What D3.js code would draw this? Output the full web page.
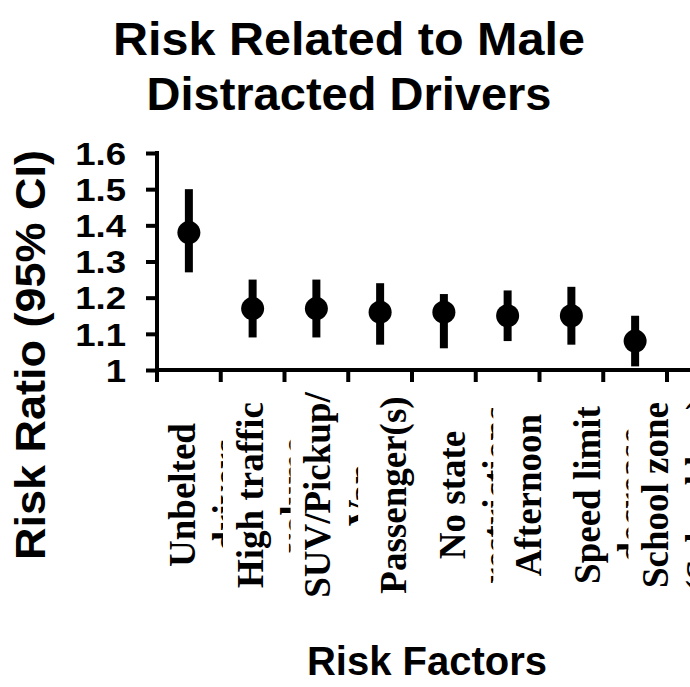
<!DOCTYPE html>
<html>
<head>
<meta charset="utf-8">
<script src="https://cdn.jsdelivr.net/npm/d3@7"></script>
<style>
  body { margin: 0; background: #fff; }
  svg { display: block; }
</style>
</head>
<body>
<svg id="chart" width="690" height="687"></svg>
<script>
// risk ratios with 95% CI
var categories = ["Unbelted drivers", "High traffic volume", "SUV/Pickup/Van", "Passenger(s)",
                  "No state restrictions", "Afternoon", "Speed limit decrease", "School zone (School bus)"]
var labelLines = [["Unbelted", "drivers"], ["High traffic", "volume"], ["SUV/Pickup/", "Van"], ["Passenger(s)"],
                  ["No state", "restrictions"], ["Afternoon"], ["Speed limit", "decrease"], ["School zone", "(School bus)"]]
var riskRatio = [1.38, 1.17, 1.17, 1.16, 1.16, 1.15, 1.15, 1.08]
var ciLow     = [1.27, 1.09, 1.09, 1.07, 1.06, 1.08, 1.07, 1.01]
var ciHigh    = [1.50, 1.25, 1.25, 1.24, 1.21, 1.22, 1.23, 1.15]
var yTicks    = [1, 1.1, 1.2, 1.3, 1.4, 1.5, 1.6]

var svg = d3.select("#chart"),
    width = +svg.attr("width"),
    height = +svg.attr("height")

var sans = "'Liberation Sans', Arial, sans-serif",
    serif = "'Liberation Serif', 'Times New Roman', serif"

var x = d3.scaleBand()
    .domain(categories)
    .range([157, 667])

var y = d3.scaleLinear()
    .domain([1, 1.6])
    .range([370, 153])

// label baselines do not sit quite on the band centres in the original
var xLabel = d3.scalePoint()
    .domain(categories)
    .range([195, 668])

// title
var title = svg.append("g")
    .attr("font-family", sans)
    .attr("font-weight", "bold")
    .attr("font-size", "47px")
    .attr("text-anchor", "middle")
title.append("text").attr("x", 349).attr("y", 55)
    .attr("textLength", 472).attr("lengthAdjust", "spacingAndGlyphs")
    .text("Risk Related to Male")
title.append("text").attr("x", 349).attr("y", 110)
    .attr("textLength", 405).attr("lengthAdjust", "spacingAndGlyphs")
    .text("Distracted Drivers")

// y axis
var yAxis = svg.append("g")
    .attr("transform", "translate(157,0)")
    .call(d3.axisLeft(y).tickValues(yTicks).tickSize(11).tickPadding(20).tickSizeOuter(0)
      .tickFormat(function(d) { return String(d); }))
yAxis.select(".domain").remove()
yAxis.selectAll(".tick line").attr("stroke", "#000").attr("stroke-width", 4)
yAxis.selectAll(".tick text")
    .attr("font-family", sans)
    .attr("font-weight", "bold")
    .attr("font-size", "31px")
    .attr("fill", "#000")
    .attr("dy", "0.36em")
    .each(function() {
      var len = this.getComputedTextLength()
      d3.select(this).attr("textLength", len * 1.18).attr("lengthAdjust", "spacingAndGlyphs")
    })

svg.append("line")
    .attr("x1", 157).attr("x2", 157)
    .attr("y1", y(1.6) - 2).attr("y2", y(1) + 12)
    .attr("stroke", "#000").attr("stroke-width", 4)

// x axis, runs off the right edge like the original
svg.append("line")
    .attr("x1", 155).attr("x2", width)
    .attr("y1", y(1)).attr("y2", y(1))
    .attr("stroke", "#000").attr("stroke-width", 4)

var bounds = categories.map(function(c) { return x(c); }).concat([x.range()[1]])
svg.selectAll(".xtick")
    .data(bounds)
    .enter().append("line")
    .attr("class", "xtick")
    .attr("x1", function(d) { return d; })
    .attr("x2", function(d) { return d; })
    .attr("y1", y(1))
    .attr("y2", y(1) + 12)
    .attr("stroke", "#000").attr("stroke-width", 4)

// category labels, second line is cut off as in the original
svg.append("clipPath").attr("id", "lab-clip")
  .append("rect").attr("x", -300).attr("y", -60).attr("width", 600).attr("height", 88)

var labels = svg.selectAll(".xlabel")
    .data(categories)
    .enter().append("g")
    .attr("class", "xlabel")
    .attr("transform", function(d, i) {
      var shift = labelLines[i].length === 1 ? 8 : 0
      return "translate(" + (xLabel(d) + shift) + ",495) rotate(-90)"
    })

labels.selectAll("text")
    .data(function(d, i) { return labelLines[i]; })
    .enter().append("text")
    .attr("clip-path", "url(#lab-clip)")
    .attr("x", 0)
    .attr("y", function(d, j) { return j * 44; })
    .attr("text-anchor", "middle")
    .attr("font-family", serif)
    .attr("font-weight", "bold")
    .attr("font-size", "37px")
    .attr("fill", "#000")
    .text(function(d) { return d; })

// error bars and points
var centre = function(d) { return x(d) + x.bandwidth() / 2; }

svg.selectAll(".ci")
    .data(categories)
    .enter().append("line")
    .attr("class", "ci")
    .attr("x1", centre).attr("x2", centre)
    .attr("y1", function(d, i) { return y(ciHigh[i]); })
    .attr("y2", function(d, i) { return y(ciLow[i]); })
    .attr("stroke", "#000")
    .attr("stroke-width", 8)

svg.selectAll(".pt")
    .data(categories)
    .enter().append("circle")
    .attr("class", "pt")
    .attr("cx", centre)
    .attr("cy", function(d, i) { return y(riskRatio[i]); })
    .attr("r", 11.5)
    .attr("fill", "#000")

// axis titles
svg.append("text")
    .attr("transform", "translate(45,355) rotate(-90)")
    .attr("text-anchor", "middle")
    .attr("font-family", sans)
    .attr("font-weight", "bold")
    .attr("font-size", "43px")
    .attr("textLength", 410).attr("lengthAdjust", "spacingAndGlyphs")
    .text("Risk Ratio (95% CI)")

svg.append("text")
    .attr("x", 427)
    .attr("y", 675)
    .attr("text-anchor", "middle")
    .attr("font-family", sans)
    .attr("font-weight", "bold")
    .attr("font-size", "40px")
    .text("Risk Factors")
</script>
</body>
</html>
